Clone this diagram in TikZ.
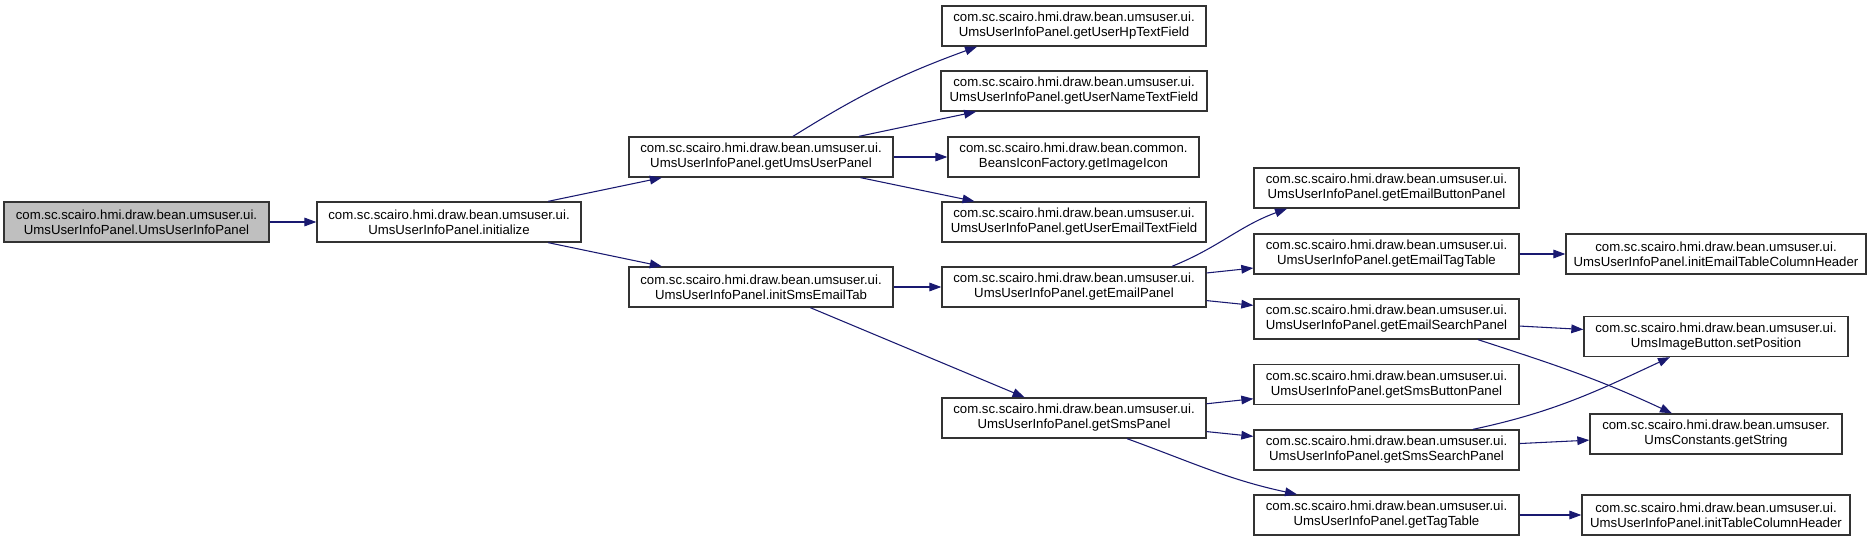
\documentclass[tikz,border=0pt]{standalone}
\usepackage{fontspec}
\setmainfont{Liberation Sans}
\usetikzlibrary{arrows.meta,calc}
\definecolor{edge}{HTML}{191970}
\definecolor{rootfill}{HTML}{BFBFBF}

\begin{document}
\begin{tikzpicture}[x=0.75pt, y=0.75pt, >={Triangle[length=9pt,width=6.5pt]},
    font=\fontsize{9.9}{11.25}\selectfont,
    fn/.style={draw=black!80, line width=1pt, fill=white, align=center,
               minimum width=198pt, minimum height=30pt, inner sep=0pt},
    call/.style={->, edge, line width=0.8pt}]
    \useasboundingbox (0,0) rectangle (1871,-541);

    % ---- caller chain
    \node[fn, fill=rootfill, minimum width=198.75pt] (root) at (136.5,-222)
      {com.sc.scairo.hmi.draw.bean.umsuser.ui.\\UmsUserInfoPanel.UmsUserInfoPanel};
    \node[fn] (init) at (449,-222)
      {com.sc.scairo.hmi.draw.bean.umsuser.ui.\\UmsUserInfoPanel.initialize};
    \node[fn] (ums) at (761,-157)
      {com.sc.scairo.hmi.draw.bean.umsuser.ui.\\UmsUserInfoPanel.getUmsUserPanel};
    \node[fn] (tab) at (761,-287)
      {com.sc.scairo.hmi.draw.bean.umsuser.ui.\\UmsUserInfoPanel.initSmsEmailTab};

    % ---- third column
    \foreach \n/\y/\lab in {hp/-26/getUserHpTextField, mail/-222/getUserEmailTextField,
                            epanel/-287/getEmailPanel, spanel/-418/getSmsPanel}
      \node[fn] (\n) at (1074,\y) {com.sc.scairo.hmi.draw.bean.umsuser.ui.\\UmsUserInfoPanel.\lab};
    \node[fn, minimum width=199.5pt] (name) at (1074,-91)
      {com.sc.scairo.hmi.draw.bean.umsuser.ui.\\UmsUserInfoPanel.getUserNameTextField};
    \node[fn, minimum width=188.25pt] (icon) at (1073.5,-157)
      {com.sc.scairo.hmi.draw.bean.common.\\BeansIconFactory.getImageIcon};

    % ---- fourth column
    \foreach \n/\y/\lab in {ebtn/-188/getEmailButtonPanel, etag/-254/getEmailTagTable,
                            esearch/-319/getEmailSearchPanel, sbtn/-384.5/getSmsButtonPanel,
                            ssearch/-450/getSmsSearchPanel, tag/-515/getTagTable}
      \node[fn, minimum width=198.75pt] (\n) at (1386.5,\y)
        {com.sc.scairo.hmi.draw.bean.umsuser.ui.\\UmsUserInfoPanel.\lab};

    % ---- last column
    \node[fn, minimum width=225pt] (ehdr) at (1716,-254)
      {com.sc.scairo.hmi.draw.bean.umsuser.ui.\\UmsUserInfoPanel.initEmailTableColumnHeader};
    \node[fn] (pos) at (1716,-336.5)
      {com.sc.scairo.hmi.draw.bean.umsuser.ui.\\UmsImageButton.setPosition};
    \node[fn, minimum width=189pt] (str) at (1716,-434)
      {com.sc.scairo.hmi.draw.bean.umsuser.\\UmsConstants.getString};
    \node[fn, minimum width=201pt] (thdr) at (1716,-515)
      {com.sc.scairo.hmi.draw.bean.umsuser.ui.\\UmsUserInfoPanel.initTableColumnHeader};

    % ---- calls
    \foreach \a/\b in {root/init, init/ums, init/tab, ums/name, ums/icon, ums/mail,
                       tab/epanel, tab/spanel, epanel/etag, epanel/esearch, etag/ehdr,
                       esearch/pos, spanel/sbtn, spanel/ssearch, ssearch/str, tag/thdr}
      \draw[call] (\a) -- (\b);
    \draw[call] ($(ums.north)+(32,0)$) to[out=32, in=200] ($(hp.south)+(-97,0)$);
    \draw[call] ($(epanel.north)+(98,0)$) to[out=22, in=200] ($(ebtn.south)+(-99.5,0)$);
    \draw[call] ($(esearch.south)+(91.5,0)$) to[out=-18, in=155] ($(str.north)+(-44,0)$);
    \draw[call] ($(spanel.south)+(53,0)$) to[out=-20, in=168] ($(tag.north)+(-89.5,0)$);
    \draw[call] ($(ssearch.north)+(86.5,0)$) to[out=12, in=205] ($(pos.south)+(-46,0)$);
  \end{tikzpicture}
\end{document}
